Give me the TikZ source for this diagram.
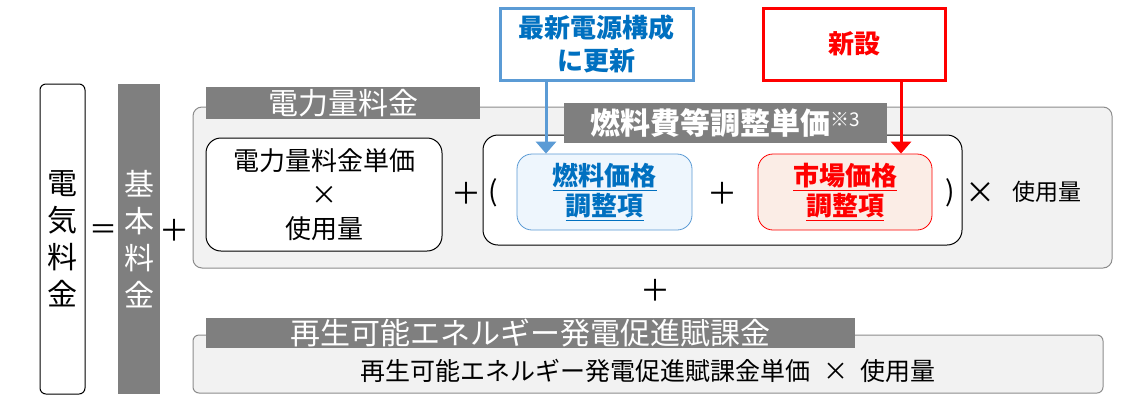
\documentclass[tikz,border=0pt]{standalone}
\usepackage{fontspec}
\setmainfont{Noto Sans CJK JP}
\usepackage{tikz}
\usetikzlibrary{arrows.meta}
\definecolor{feeGray}{HTML}{7F7F7F}
\definecolor{feePanel}{HTML}{F2F2F2}
\definecolor{feeEdge}{HTML}{8C8C8C}
\definecolor{feeBlue}{HTML}{0070C0}
\definecolor{feeSky}{HTML}{5B9BD5}
\definecolor{feeSkyFill}{HTML}{EEF6FD}
\definecolor{feeRed}{HTML}{FF0000}
\definecolor{feeRedFill}{HTML}{FBEDE6}
\newcommand{\fsz}[1]{\fontsize{#1}{#1}\selectfont}
\tikzset{
    fee/box/.style={
        rectangle, draw=black, fill=white, line width=1pt,
        align=center, inner sep=0pt
    },
    fee/panel/.style={
        rectangle, rounded corners=9pt, draw=feeEdge, fill=feePanel,
        line width=1pt, inner sep=0pt
    },
    fee/title/.style={
        rectangle, fill=feeGray, text=white, inner sep=0pt,
        font=\fsz{30}
    },
    fee/term/.style={
        fee/box, rounded corners=15pt, font=\fsz{26}\bfseries
    },
    fee/note/.style={
        rectangle, fill=white, line width=3pt, inner sep=0pt,
        align=center, font=\fsz{26}\bfseries
    },
    fee/op/.style={font=\fsz{30}, inner sep=0pt},
    fee/arrow/.style={
        line width=3pt, -{Triangle[length=12pt,width=20pt]}
    }
}

\begin{document}
\begin{tikzpicture}[x=1pt, y=-1pt]
    \useasboundingbox (0,0) rectangle (1123,408);

    % left side of the formula
    \node[fee/box, rounded corners=6pt, minimum width=45pt, minimum height=310pt,
        font=\fontsize{30}{37}\selectfont] (total) at (62.5,239)
        {電\\気\\料\\金};
    \node[fee/op, font=\fsz{28}] (equal) at (103,232) {＝};
    \node[rectangle, fill=feeGray, text=white, inner sep=0pt, align=center,
        minimum width=42pt, minimum height=310pt,
        font=\fontsize{30}{37}\selectfont] (basic) at (139,239)
        {基\\本\\料\\金};
    \node[fee/op] (plusbasic) at (174,230) {＋};

    % energy charge
    \node[fee/panel, minimum width=919pt, minimum height=161pt]
        (energy) at (652.5,187.5) {};
    \node[fee/title, minimum width=274pt, minimum height=32pt]
        (energytitle) at (343,103) {電力量料金};
    \node[fee/box, rounded corners=15pt, minimum width=236pt, minimum height=113pt,
        font=\fontsize{26}{34}\selectfont] (unitprice) at (324,194.5)
        {電力量料金単価\\×\\使用量};

    \node[fee/box, rounded corners=15pt, minimum width=479pt, minimum height=110pt]
        (fueladj) at (722.5,190) {};
    \node[fee/op] (plusunit) at (466,193) {＋};
    \node[fee/op, font=\fsz{28}] (openparen) at (493,193) {(};
    \node[fee/title, minimum width=323pt, minimum height=40pt,
        font=\fsz{30}\bfseries] (fueltitle) at (725.5,123)
        {燃料費等調整単価\raisebox{8pt}{\fsz{19}\mdseries ※3}};
    \node[fee/term, draw=feeSky, fill=feeSkyFill, text=feeBlue,
        minimum width=175pt, minimum height=76pt, line width=0.8pt,
        font=\fontsize{26}{30}\selectfont\bfseries] (fuelterm) at (604.5,192)
        {\underline{燃料価格}\\\underline{調整項}};
    \node[fee/op] (plusterm) at (722,193) {＋};
    \node[fee/term, draw=feeRed, fill=feeRedFill, text=feeRed,
        minimum width=174pt, minimum height=76pt, line width=0.8pt,
        font=\fontsize{26}{30}\selectfont\bfseries] (marketterm) at (845,192)
        {\underline{市場価格}\\\underline{調整項}};
    \node[fee/op, font=\fsz{28}] (closeparen) at (950,193) {)};
    \node[fee/op, font=\fsz{30}] (timesuse) at (980,193) {×};
    \node[fee/op, font=\fsz{23}] (usage) at (1047,192) {使用量};

    % notes above
    \node[fee/note, draw=feeSky, text=feeBlue, minimum width=193pt,
        minimum height=72pt, font=\fontsize{26}{33}\selectfont\bfseries]
        (update) at (596.5,44) {最新電源構成\\に更新};
    \node[fee/note, draw=feeRed, text=feeRed, minimum width=182pt,
        minimum height=72pt] (newitem) at (854,44) {新設};
    \draw[fee/arrow, draw=feeSky, fill=feeSky]
        ([xshift=-50.5pt]update.south)
        -- ([xshift=-50.5pt]update.south |- fuelterm.north);
    \draw[fee/arrow, draw=feeRed, fill=feeRed]
        ([xshift=47pt]newitem.south)
        -- ([xshift=47pt]newitem.south |- marketterm.north);

    \node[fee/op] (plusrenew) at (655,290) {＋};

    % renewable surcharge
    \node[fee/panel, rounded corners=6pt, minimum width=910pt, minimum height=58pt]
        (renew) at (648,364) {};
    \node[fee/title, minimum width=649pt, minimum height=30pt]
        (renewtitle) at (530.5,333) {再生可能エネルギー発電促進賦課金};
    \node[font=\fsz{25}, inner sep=0pt] (renewtext) at (648,371)
        {再生可能エネルギー発電促進賦課金単価\hspace{0.5em}×\hspace{0.5em}使用量};
\end{tikzpicture}
\end{document}
